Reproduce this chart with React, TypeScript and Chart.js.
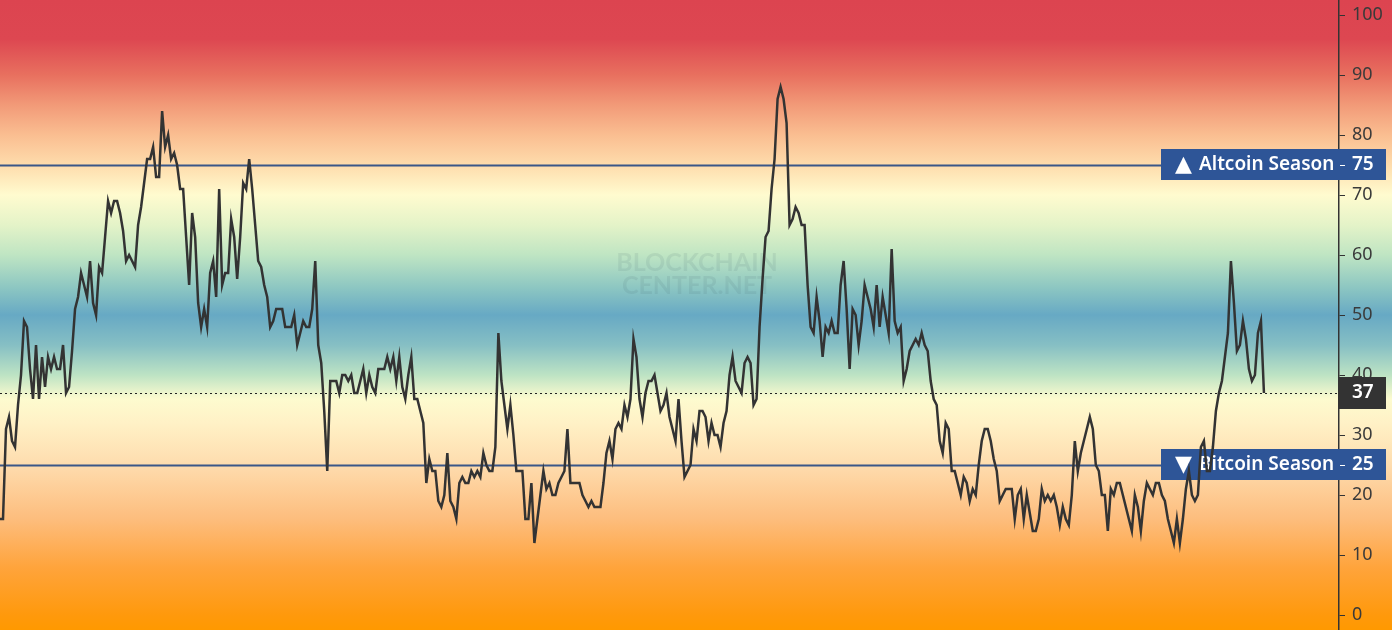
import React, { useEffect, useRef } from "react";
import { Chart, registerables } from "chart.js";

Chart.register(...registerables);

// Altcoin Season Index, one value per period
const indexValues: number[] = [
  16, 16, 31, 33, 29, 28, 35, 40, 49, 48,
  41, 36, 45, 36, 43, 38, 43, 41, 43, 41,
  41, 45, 37, 38, 44, 51, 53, 57, 55, 53,
  59, 52, 50, 58, 57, 63, 69, 67, 69, 69,
  67, 64, 59, 60, 59, 58, 65, 68, 72, 76,
  76, 78, 73, 73, 84, 78, 80, 76, 77, 75,
  71, 71, 63, 55, 67, 63, 52, 48, 51, 48,
  57, 59, 53, 71, 55, 57, 57, 66, 63, 56,
  63, 72, 71, 76, 71, 65, 59, 58, 55, 53,
  48, 49, 51, 51, 51, 48, 48, 48, 50, 45,
  47, 49, 48, 48, 51, 59, 45, 42, 34, 24,
  39, 39, 39, 37, 40, 40, 39, 40, 37, 37,
  39, 41, 37, 40, 38, 37, 41, 41, 41, 43,
  41, 43, 39, 43, 38, 36, 40, 43, 36, 36,
  34, 32, 22, 26, 24, 24, 19, 18, 20, 27,
  19, 18, 16, 22, 23, 22, 22, 24, 23, 24,
  23, 27, 25, 24, 24, 28, 47, 39, 35, 31,
  35, 30, 24, 24, 24, 16, 16, 22, 12, 16,
  20, 24, 21, 22, 20, 20, 22, 23, 24, 31,
  22, 22, 22, 22, 20, 19, 18, 19, 18, 18,
  18, 22, 27, 29, 26, 31, 32, 31, 35, 33,
  36, 46, 43, 36, 33, 37, 39, 39, 40, 37,
  34, 35, 37, 33, 31, 29, 36, 29, 23, 24,
  25, 31, 29, 34, 34, 33, 29, 32, 30, 30,
  28, 32, 34, 40, 43, 39, 38, 37, 42, 43,
  42, 35, 36, 48, 56, 63, 64, 71, 76, 86,
  88, 86, 82, 65, 66, 68, 67, 65, 65, 55,
  48, 47, 53, 49, 43, 48, 47, 49, 47, 47,
  55, 59, 51, 41, 51, 50, 45, 49, 55, 53,
  51, 48, 55, 48, 53, 50, 47, 61, 49, 47,
  48, 39, 41, 44, 45, 46, 45, 47, 45, 44,
  39, 36, 35, 29, 27, 32, 31, 24, 24, 22,
  20, 23, 22, 19, 21, 20, 25, 29, 31, 31,
  29, 26, 24, 19, 20, 21, 21, 21, 16, 20,
  21, 16, 20, 17, 14, 14, 16, 21, 19, 20,
  19, 20, 18, 15, 18, 16, 15, 20, 29, 24,
  27, 29, 31, 33, 31, 25, 24, 20, 20, 14,
  21, 20, 22, 22, 20, 18, 16, 14, 20, 18,
  14, 19, 22, 21, 20, 22, 22, 20, 19, 16,
  14, 12, 16, 12, 16, 21, 24, 20, 19, 20,
  28, 29, 24, 24, 28, 34, 37, 39, 43, 47,
  59, 52, 44, 45, 49, 46, 41, 39, 40, 47,
  49, 37,
];

const yTickValues: number[] = [0, 10, 20, 30, 40, 50, 60, 70, 80, 90, 100];
const altcoinSeasonLevel = 75;
const bitcoinSeasonLevel = 25;
const altcoinSeasonLabel = "Altcoin Season";
const bitcoinSeasonLabel = "Bitcoin Season";
const altcoinMarker = "▲";
const bitcoinMarker = "▼";
const watermarkLines: string[] = ["BLOCKCHAIN", "CENTER.NET"];

const Y_MIN = -2.5;
const Y_MAX = 102.5;
const EMPTY_TAIL = 25;

const bandStops: [number, string][] = [
  [102.5, "#dc4450"],
  [96, "#dd4751"],
  [90, "#e8705f"],
  [85, "#f29a78"],
  [80, "#fabe91"],
  [75, "#fedcac"],
  [70, "#fffbcf"],
  [65, "#e4f3c8"],
  [60, "#bfe5c3"],
  [54.5, "#8cc6c2"],
  [50, "#67a9c4"],
  [45, "#86bfc4"],
  [40, "#bde3c4"],
  [36, "#fdfbcf"],
  [32, "#fff1c6"],
  [25, "#fedcae"],
  [16, "#fdbd7d"],
  [8, "#ffa43c"],
  [0, "#ff990c"],
  [-2.5, "#ff9900"],
];

const LABEL_FONT = '"Noto Sans", "DejaVu Sans", sans-serif';

const overlayPlugin = {
  id: "altseasonOverlay",
  beforeDraw(chart: any) {
    const { ctx, width, height } = chart;
    const y = chart.scales.y;
    const p0 = y.getPixelForValue(Y_MAX);
    const p1 = y.getPixelForValue(Y_MIN);
    const g = ctx.createLinearGradient(0, p0, 0, p1);
    for (const [v, c] of bandStops) {
      const off = Math.min(1, Math.max(0, (y.getPixelForValue(v) - p0) / (p1 - p0)));
      g.addColorStop(off, c);
    }
    ctx.save();
    ctx.fillStyle = g;
    ctx.fillRect(0, 0, width, height);
    ctx.restore();
  },
  beforeDatasetsDraw(chart: any) {
    const { ctx, chartArea } = chart;
    const y = chart.scales.y;
    const axisX = chartArea.right;
    ctx.save();

    // watermark
    ctx.fillStyle = "rgba(60, 85, 95, 0.10)";
    ctx.textAlign = "center";
    ctx.textBaseline = "middle";
    ctx.font = `bold 25px "Lato", "Open Sans", sans-serif`;
    ctx.fillText(watermarkLines[0], 697, 263);
    ctx.fillText(watermarkLines[1], 697, 286);

    const boxLeft = axisX - 178;
    const boxRight = axisX + 47;

    // threshold lines
    ctx.strokeStyle = "#3a5788";
    ctx.lineWidth = 2;
    for (const lvl of [altcoinSeasonLevel, bitcoinSeasonLevel]) {
      const py = Math.round(y.getPixelForValue(lvl)) + 0.5;
      ctx.beginPath();
      ctx.moveTo(chartArea.left, py);
      ctx.lineTo(boxLeft, py);
      ctx.stroke();
    }

    // current value dotted line
    const last = indexValues[indexValues.length - 1];
    const cy = Math.round(y.getPixelForValue(last)) + 0.5;
    ctx.strokeStyle = "#222";
    ctx.lineWidth = 1;
    ctx.setLineDash([2, 3]);
    ctx.beginPath();
    ctx.moveTo(chartArea.left, cy);
    ctx.lineTo(axisX, cy);
    ctx.stroke();
    ctx.setLineDash([]);

    // season label boxes
    const drawSeason = (lvl: number, marker: string, text: string) => {
      const py = y.getPixelForValue(lvl);
      ctx.fillStyle = "#2e5597";
      ctx.fillRect(boxLeft, py - 16, boxRight - boxLeft, 31);
      ctx.fillStyle = "#ffffff";
      ctx.textBaseline = "middle";
      ctx.textAlign = "left";
      ctx.font = `600 22px "DejaVu Sans", sans-serif`;
      ctx.fillText(marker, boxLeft + 14, py);
      ctx.font = `600 19px ${LABEL_FONT}`;
      ctx.fillText(text, boxLeft + 38, py);
      ctx.fillText(String(lvl), axisX + 13, py);
      ctx.strokeStyle = "#ffffff";
      ctx.lineWidth = 1;
      ctx.beginPath();
      ctx.moveTo(axisX + 1, Math.round(py) + 0.5);
      ctx.lineTo(axisX + 6, Math.round(py) + 0.5);
      ctx.stroke();
    };
    drawSeason(altcoinSeasonLevel, altcoinMarker, altcoinSeasonLabel);
    drawSeason(bitcoinSeasonLevel, bitcoinMarker, bitcoinSeasonLabel);

    // current value box
    const ly = y.getPixelForValue(last);
    ctx.fillStyle = "#333333";
    ctx.fillRect(axisX, ly - 16, 47, 32);
    ctx.fillStyle = "#ffffff";
    ctx.font = `600 19px ${LABEL_FONT}`;
    ctx.textAlign = "left";
    ctx.textBaseline = "middle";
    ctx.fillText(String(last), axisX + 13, ly);

    ctx.restore();
  },
};

export default function App() {
  const canvasRef = useRef<HTMLCanvasElement | null>(null);

  useEffect(() => {
    const canvas = canvasRef.current;
    if (!canvas) return;
    const points = indexValues.map((v, i) => ({ x: i, y: v }));
    const chart = new Chart(canvas, {
      type: "line",
      data: {
        datasets: [
          {
            data: points,
            borderColor: "#333333",
            borderWidth: 2.5,
            pointRadius: 0,
            tension: 0,
            fill: false,
          },
        ],
      },
      options: {
        animation: false,
        responsive: false,
        maintainAspectRatio: false,
        layout: { padding: 0 },
        plugins: {
          legend: { display: false },
          tooltip: { enabled: false },
        },
        scales: {
          x: {
            type: "linear",
            display: false,
            min: 0,
            max: indexValues.length - 1 + EMPTY_TAIL,
          },
          y: {
            position: "right",
            min: Y_MIN,
            max: Y_MAX,
            afterBuildTicks: (scale: any) => {
              scale.ticks = yTickValues.map((v) => ({ value: v }));
            },
            afterFit: (scale: any) => {
              scale.width = 53;
              scale.paddingTop = 0;
              scale.paddingBottom = 0;
            },
            grid: {
              drawOnChartArea: false,
              drawTicks: true,
              tickLength: 6,
              tickWidth: 1,
              tickColor: "#333333",
            },
            border: { display: true, color: "#333333", width: 1.5 },
            ticks: {
              padding: 7,
              color: "#3a3a3a",
              font: { family: LABEL_FONT, size: 18 },
              callback: (v: any) => String(v),
            },
          },
        },
      },
      plugins: [overlayPlugin],
    });
    return () => chart.destroy();
  }, []);

  return (
    <div style={{ position: "absolute", left: 0, top: 0, width: 1392, height: 630 }}>
      <canvas ref={canvasRef} width={1392} height={630} />
    </div>
  );
}
